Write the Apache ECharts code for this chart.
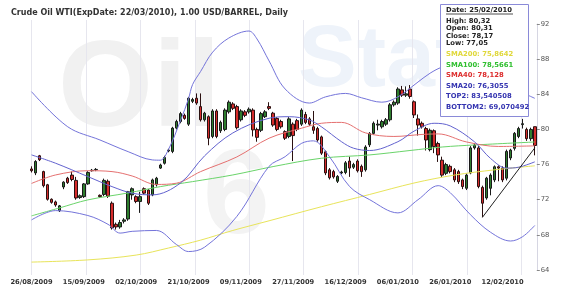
<!DOCTYPE html>
<html><head><meta charset="utf-8">
<script src="https://cdn.jsdelivr.net/npm/echarts@6/dist/echarts.min.js"></script>
<style>html,body{margin:0;padding:0;background:#fff}#c{width:570px;height:295px}</style>
</head><body><div id="c"></div>
<script>
const dates = ['26/08/2009','27/08/2009','28/08/2009','31/08/2009','01/09/2009','02/09/2009','03/09/2009','04/09/2009','08/09/2009','09/09/2009','10/09/2009','11/09/2009','14/09/2009','15/09/2009','16/09/2009','17/09/2009','18/09/2009','21/09/2009','22/09/2009','23/09/2009','24/09/2009','25/09/2009','28/09/2009','29/09/2009','30/09/2009','01/10/2009','02/10/2009','05/10/2009','06/10/2009','07/10/2009','08/10/2009','09/10/2009','12/10/2009','13/10/2009','14/10/2009','15/10/2009','16/10/2009','19/10/2009','20/10/2009','21/10/2009','22/10/2009','23/10/2009','26/10/2009','27/10/2009','28/10/2009','29/10/2009','30/10/2009','02/11/2009','03/11/2009','04/11/2009','05/11/2009','06/11/2009','09/11/2009','10/11/2009','11/11/2009','12/11/2009','13/11/2009','16/11/2009','17/11/2009','18/11/2009','19/11/2009','20/11/2009','23/11/2009','24/11/2009','25/11/2009','27/11/2009','30/11/2009','01/12/2009','02/12/2009','03/12/2009','04/12/2009','07/12/2009','08/12/2009','09/12/2009','10/12/2009','11/12/2009','14/12/2009','15/12/2009','16/12/2009','17/12/2009','18/12/2009','21/12/2009','22/12/2009','23/12/2009','24/12/2009','28/12/2009','29/12/2009','30/12/2009','31/12/2009','04/01/2010','05/01/2010','06/01/2010','07/01/2010','08/01/2010','11/01/2010','12/01/2010','13/01/2010','14/01/2010','15/01/2010','19/01/2010','20/01/2010','21/01/2010','22/01/2010','25/01/2010','26/01/2010','27/01/2010','28/01/2010','29/01/2010','01/02/2010','02/02/2010','03/02/2010','04/02/2010','05/02/2010','08/02/2010','09/02/2010','10/02/2010','11/02/2010','12/02/2010','16/02/2010','17/02/2010','18/02/2010','19/02/2010','22/02/2010','23/02/2010','24/02/2010','25/02/2010'];
const xTickLabels = ['26/08/2009','15/09/2009','02/10/2009','21/10/2009','09/11/2009','27/11/2009','16/12/2009','06/01/2010','26/01/2010','12/02/2010'];

const openP = [75.5,75.05,77.0,75.2,73.7,72.05,71.75,70.75,73.45,74.45,74.8,74.2,72.25,72.35,73.8,75.3,75.4,72.5,72.6,74.1,71.6,69.2,68.9,69.55,69.8,72.55,72.35,71.8,73.25,73.1,72.55,73.7,75.6,76.15,77.55,77.5,80.15,80.9,81.6,80.6,83.2,83.55,82.6,81.1,81.45,79.2,82.1,79.85,80.0,82.0,82.9,82.6,81.1,82.0,82.0,82.2,80.0,79.9,81.45,82.6,81.85,81.25,80.9,79.75,79.2,80.6,81.0,80.6,81.7,81.2,80.3,80.1,79.15,77.45,75.4,75.2,74.1,75.05,75.1,76.4,75.7,76.4,75.8,75.4,78.25,79.55,80.5,80.3,80.6,81.1,82.8,83.0,84.5,83.9,84.6,83.15,81.2,80.7,80.1,77.7,79.85,78.4,76.5,75.0,75.8,75.4,75.2,74.25,73.3,75.05,77.9,77.9,73.4,72.2,73.3,74.25,75.75,75.6,74.45,76.75,77.85,79.2,80.55,80.0,78.95,80.31];
const closeP = [75.3,76.35,76.55,73.6,72.05,71.7,71.4,71.3,74.0,73.95,74.3,72.2,72.45,73.8,75.1,75.35,75.45,72.35,74.2,72.4,68.8,68.9,69.4,69.7,72.9,73.25,71.8,72.35,72.75,71.6,74.25,74.45,75.95,76.8,77.65,80.15,80.9,81.8,81.25,83.55,83.4,83.0,81.1,81.85,79.0,82.1,79.2,80.8,82.2,83.1,82.4,80.2,82.1,81.6,82.3,79.95,79.1,81.8,82.0,82.4,80.5,80.0,80.3,79.0,81.2,79.3,80.0,82.2,80.8,80.6,79.9,78.8,77.3,75.05,74.5,74.6,74.65,75.15,76.2,75.6,76.0,75.3,75.2,78.0,79.55,80.7,80.6,80.9,81.1,82.8,83.1,84.6,83.9,84.05,83.75,81.65,80.5,80.3,78.8,79.9,78.05,77.1,74.8,76.0,75.2,74.25,74.05,73.5,74.8,77.9,78.2,73.5,71.6,74.45,74.8,75.75,75.6,74.25,77.5,77.65,79.55,80.1,80.65,78.95,80.0,78.17];
const lowP = [75.1,74.8,76.4,73.4,71.9,71.55,71.2,70.6,73.2,73.8,74.1,72.0,72.1,72.2,73.7,75.2,75.25,72.2,72.4,72.2,68.6,68.6,68.7,69.3,69.6,72.0,71.6,70.5,72.6,71.4,72.4,73.5,75.5,76.0,77.4,77.3,80.0,80.7,81.1,80.4,83.0,82.8,80.9,80.9,78.2,79.0,79.0,79.6,79.8,81.8,82.2,80.0,80.9,81.4,81.8,79.2,78.6,79.7,81.3,82.2,80.3,79.8,80.1,78.8,79.0,76.4,79.8,80.4,80.6,80.4,79.5,78.6,77.1,74.8,74.3,74.4,73.9,74.9,74.9,74.6,75.5,75.1,74.6,75.2,78.0,79.4,79.9,80.1,80.4,80.9,82.6,82.8,83.7,83.7,83.5,81.3,79.3,80.1,77.6,77.5,77.3,76.3,74.6,74.8,75.0,74.0,73.8,73.2,73.1,74.9,77.7,73.3,70.0,72.0,72.5,74.0,74.1,74.0,74.2,76.5,77.6,79.0,80.1,78.7,78.7,77.05];
const highP = [75.8,76.5,77.1,75.3,73.8,72.15,71.9,71.4,74.1,74.6,75.2,74.6,72.6,73.9,75.25,75.5,75.6,72.6,74.4,74.3,71.8,69.4,69.7,69.9,73.0,73.4,72.5,72.9,73.4,73.2,74.4,74.6,76.1,77.0,77.8,80.3,81.1,82.0,81.8,83.7,83.6,84.1,84.1,82.0,81.6,82.3,82.3,81.0,82.4,83.3,83.1,82.8,82.3,82.2,82.5,82.4,80.2,82.0,82.2,83.1,82.0,81.4,81.1,79.9,81.4,80.8,81.2,82.4,82.0,81.4,82.1,80.3,79.3,77.6,75.6,75.4,74.8,75.3,76.4,76.9,76.2,76.6,76.0,78.2,79.7,80.9,81.1,81.1,81.3,83.0,83.3,84.8,84.95,84.9,85.05,83.3,81.7,80.9,80.3,80.1,80.0,78.6,76.9,76.2,76.0,75.6,75.4,74.4,75.0,78.1,78.4,78.1,73.6,74.6,75.0,75.9,75.9,75.8,77.7,77.8,79.7,80.3,81.2,80.2,80.2,80.32];

const sma200 = [[0,64.9],[14,65.15],[26,65.7],[34,66.5],[42,67.4],[50,68.5],[59,69.6],[72,71.2],[84,72.6],[95,73.9],[105,74.8],[115,75.4],[125,75.86]];
const sma100 = [[0,70.16],[7,71.07],[14,71.98],[24,72.77],[32,73.49],[40,74.06],[50,74.82],[60,75.77],[72,76.72],[84,77.1],[94,77.6],[102,78.0],[110,78.23],[125,78.57]];
const sma40 = [[0,73.85],[6,74.82],[14,75.3],[20,75.2],[25,74.7],[31,73.74],[36,73.88],[42,75.2],[51,76.87],[59,79.0],[67,80.13],[72,80.7],[77,80.8],[83,79.6],[90,79.2],[97,79.43],[101,79.49],[108,78.58],[116,78.06],[125,78.13]];
const sma20 = [[0,77.1],[6,76.15],[14,74.63],[20,73.49],[25,72.74],[30,72.55],[37,73.9],[43,77.0],[50,79.6],[59,81.27],[64,81.45],[69,81.08],[72,80.3],[77,78.6],[80,77.86],[84,77.6],[91,78.6],[95,79.8],[100,80.7],[104,80.4],[110,78.6],[114,76.7],[118,75.6],[121,75.7],[125,76.31]];
const top2 = [[0,84.3],[9,80.3],[17,78.8],[24,77.47],[30,76.53],[32,76.5],[34,77.7],[37,81.0],[39,83.5],[40,85.1],[42,86.6],[45,88.8],[49,90.4],[54,91.2],[56,90.3],[59,87.8],[63,84.6],[69,83.0],[73,83.7],[78,84.1],[82,83.6],[87,83.1],[91,83.7],[96,85.4],[99,86.4],[102,87.1],[106,87.5],[112,87.0],[118,85.2],[121,84.3],[123,83.95],[125,83.54]];
const bottom2 = [[0,69.7],[6,70.76],[14,70.2],[19,69.2],[22,68.2],[25,68.4],[31,68.5],[36,66.9],[39,66.1],[43,66.6],[51,70.1],[59,75.8],[63,76.9],[67,78.4],[70,78.7],[74,76.9],[79,73.5],[84,72.0],[91,70.5],[96,72.0],[101,73.6],[104,72.8],[109,70.3],[114,68.3],[119,67.3],[122,67.8],[125,69.07]];
const trendLine = [[112,70.0],[125,77.9]];

const titleText = 'Crude Oil WTI(ExpDate: 22/03/2010), 1.00 USD/BARREL, Daily';
const infoLines = [
  ['Date: 25/02/2010', '#222'],
  ['High: 80,32', '#222'],
  ['Open: 80,31', '#222'],
  ['Close: 78,17', '#222'],
  ['Low: 77,05', '#222'],
  ['SMA200: 75,8642', '#e0d83a'],
  ['SMA100: 78,5661', '#2fbf2f'],
  ['SMA40: 78,128', '#dd2e2e'],
  ['SMA20: 76,3055', '#3434b0'],
  ['TOP2: 83,540508', '#3434b0'],
  ['BOTTOM2: 69,070492', '#3434b0']
];
const infoY = [10.7, 21.3, 28.7, 36, 43.7, 54.3, 65, 75.7, 86, 96.7, 107];

const candles = openP.map((o, i) => [o, closeP[i], lowP[i], highP[i]]);
const FONT = 'DejaVu Sans';

function lineSeries(name, data, color, w) {
  return { name, type: 'line', data, xAxisIndex: 0, yAxisIndex: 0, showSymbol: false, smooth: 0.35,
    lineStyle: { color, width: w || 1 }, z: 3, silent: true };
}

const graphics = [
  { type: 'text', z: -1, x: 58, y: 92, style: { text: 'Oil', fill: '#f1f1f1', font: 'bold 122px "Liberation Sans"', verticalAlign: 'middle' } },
  { type: 'text', z: -1, x: 203, y: 200, style: { text: '6', fill: '#f3f3f3', font: 'bold 120px "Liberation Sans"', verticalAlign: 'middle' } },
  { type: 'text', z: -1, x: 298, y: 62, style: { text: 'Stat', fill: '#eef3fa', font: 'bold 88px "Liberation Sans"', verticalAlign: 'middle' } },
  { type: 'text', z: 50, x: 11, y: 13, style: { text: titleText, fill: '#333', font: 'bold 8px "' + FONT + '"', verticalAlign: 'middle' } },
  { type: 'rect', z: 60, shape: { x: 440.5, y: 4.5, width: 88, height: 112 }, style: { fill: '#fff', stroke: '#8a8ad8', lineWidth: 1 } },
  { type: 'line', z: 61, shape: { x1: 446, y1: 14, x2: 513, y2: 14 }, style: { stroke: '#222', lineWidth: 0.8 } }
];
infoLines.forEach((l, i) => {
  graphics.push({ type: 'text', z: 61, x: 446, y: infoY[i], style: { text: l[0], fill: l[1], font: 'bold 6.8px "' + FONT + '"', verticalAlign: 'middle' } });
});

const chart = echarts.init(document.getElementById('c'), null, { renderer: 'canvas' });
chart.setOption({
  animation: false,
  backgroundColor: '#fff',
  grid: [
    { left: 29.5, right: 33.2, top: 24, bottom: 25 },
    { left: 31.7, width: 489.6, top: 20, bottom: 20 }
  ],
  xAxis: [
    { type: 'category', gridIndex: 0, data: dates, boundaryGap: true,
      axisLine: { show: false }, axisTick: { show: false }, splitLine: { show: false },
      axisLabel: { interval: (i, v) => xTickLabels.indexOf(v) >= 0, fontFamily: FONT, fontWeight: 'bold', fontSize: 6.7, color: '#333', margin: 9 } },
    { type: 'value', gridIndex: 1, min: 0, max: 9, interval: 1,
      axisLine: { show: false }, axisTick: { show: false }, axisLabel: { show: false },
      splitLine: { show: true, lineStyle: { color: '#e6e6ee', width: 1 } } }
  ],
  yAxis: [
    { type: 'value', gridIndex: 0, position: 'right', min: 64, max: 92, interval: 4,
      axisLine: { show: true, lineStyle: { color: '#d6d6e2' } },
      axisTick: { show: true, length: 3, lineStyle: { color: '#888' } },
      splitLine: { show: false },
      axisLabel: { fontFamily: FONT, fontSize: 6.8, color: '#555', margin: 4 } },
    { type: 'value', gridIndex: 1, show: false, min: 0, max: 1, splitLine: { show: false } }
  ],
  graphic: graphics,
  series: [
    { type: 'candlestick', name: 'WTI', data: candles, xAxisIndex: 0, yAxisIndex: 0, barWidth: 3, z: 2,
      itemStyle: { color: '#2e7d2e', color0: '#d62b2b', borderColor: '#1a1a1a', borderColor0: '#2a1010', borderWidth: 1 } },
    lineSeries('SMA200', sma200, '#e8e45a'),
    lineSeries('SMA100', sma100, '#6ad46a'),
    lineSeries('SMA40', sma40, '#e57070'),
    lineSeries('SMA20', sma20, '#6262cf'),
    lineSeries('TOP2', top2, '#7474da'),
    lineSeries('BOTTOM2', bottom2, '#7474da'),
    { type: 'line', name: 'Trend', data: trendLine, showSymbol: false, lineStyle: { color: '#222', width: 1 }, z: 4, silent: true }
  ]
});
</script></body></html>
